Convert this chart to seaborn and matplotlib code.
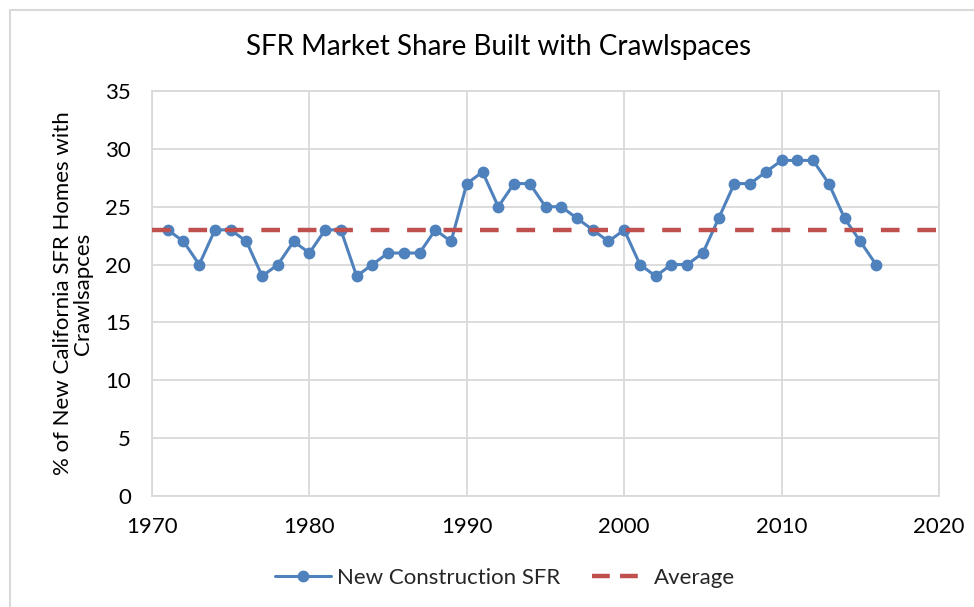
import matplotlib
matplotlib.use("Agg")
import matplotlib.pyplot as plt
from matplotlib.lines import Line2D
import seaborn as sns
import pandas as pd

years = list(range(1971, 2017))
share = [23, 22, 20, 23, 23, 22, 19, 20, 22, 21,
         23, 23, 19, 20, 21, 21, 21, 23, 22, 27,
         28, 25, 27, 27, 25, 25, 24, 23, 22, 23,
         20, 19, 20, 20, 21, 24, 27, 27, 28, 29,
         29, 29, 27, 24, 22, 20]
avg_years = [1970, 2020]
avg_values = [23, 23]

blue = "#4F81BD"
red = "#C0504D"
grid = "#D9D9D9"

sns.set_theme(style="white")
plt.rcParams["font.family"] = ["Lato", "DejaVu Sans"]

df = pd.DataFrame({"year": years, "share": share})
df_avg = pd.DataFrame({"year": avg_years, "share": avg_values})

fig = plt.figure(figsize=(9.74, 6.07), dpi=100)
ax = fig.add_axes([152 / 974, 1 - 496 / 607, (939 - 152) / 974, (496 - 91) / 607])

sns.lineplot(data=df, x="year", y="share", ax=ax, color=blue, linewidth=2.2,
             marker="o", markersize=8.5, markeredgewidth=0, label="New Construction SFR",
             zorder=3)
sns.lineplot(data=df_avg, x="year", y="share", ax=ax, color=red, linewidth=3.2,
             linestyle=(0, (4.2, 4.0)), label="Average", zorder=4)

ax.set_xlim(1970, 2020)
ax.set_ylim(0, 35)
ax.set_xticks(range(1970, 2021, 10))
ax.set_yticks(range(0, 36, 5))
ax.grid(True, color=grid, linewidth=1.3)
for s in ax.spines.values():
    s.set_color(grid)
    s.set_linewidth(1.3)
ax.tick_params(axis="both", length=0, labelsize=16, colors="black")
ax.tick_params(axis="x", pad=15)
ax.tick_params(axis="y", pad=15)
ax.set_xlabel("")
ax.set_ylabel("% of New California SFR Homes with\nCrawlsapces", fontsize=16,
              color="black", linespacing=1.0, labelpad=9)
ax.get_legend().remove()

fig.text(0.512, 1 - 47 / 607, "SFR Market Share Built with Crawlspaces",
         ha="center", va="center", fontsize=20, color="black")

handles = [Line2D([], [], color=blue, linewidth=2.2, marker="o", markersize=8.5,
                  markeredgewidth=0),
           Line2D([], [], color=red, linewidth=3.2, linestyle=(0, (4.0, 2.3)))]
fig.legend(handles, ["New Construction SFR", "Average"], loc="center",
           bbox_to_anchor=(505 / 974, 1 - 578 / 607), ncol=2, frameon=False,
           fontsize=16, handlelength=2.5, handletextpad=0.3, columnspacing=1.4)

# chart area border (top and left visible in the original)
fig.add_artist(Line2D([10 / 974, 1], [1 - 10 / 607] * 2, color="#D9D9D9", linewidth=1.5,
                      transform=fig.transFigure))
fig.add_artist(Line2D([10 / 974] * 2, [0, 1 - 10 / 607], color="#D9D9D9", linewidth=1.5,
                      transform=fig.transFigure))

fig.savefig("out.png", dpi=100)
plt.close(fig)
